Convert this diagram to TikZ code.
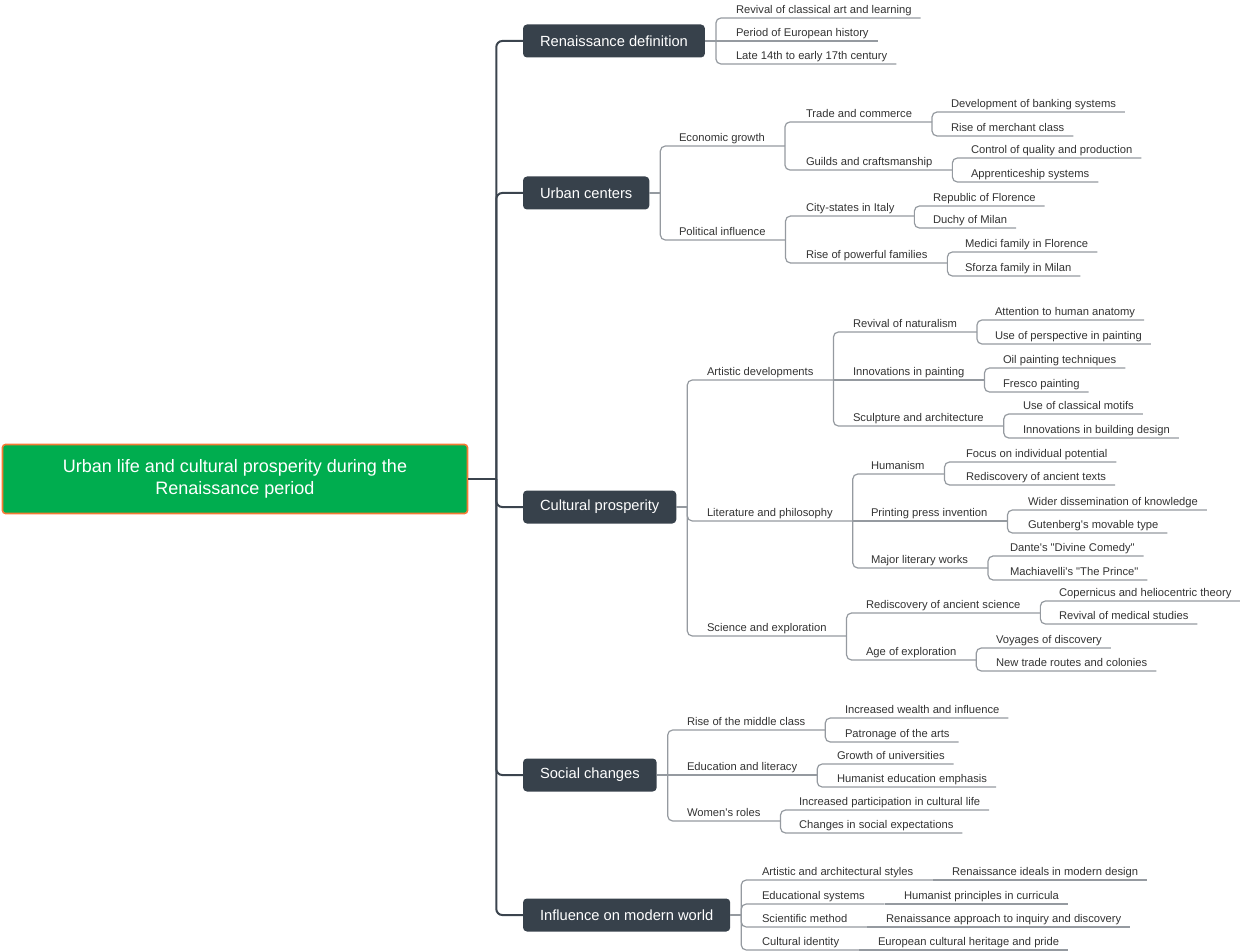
\documentclass[tikz,border=0pt]{standalone}
\usepackage{fontspec}
\newfontfamily\mapfont{Liberation Sans}

\definecolor{rootgreen}{HTML}{00AD4F}
\definecolor{rootedge}{HTML}{F47A35}
\definecolor{boxslate}{HTML}{37414B}
\definecolor{trunkslate}{HTML}{3B444E}
\definecolor{wiregray}{HTML}{959AA0}
\definecolor{inkgray}{HTML}{333333}

\tikzset{
  central/.style={rectangle, rounded corners=3pt, fill=rootgreen, draw=rootedge, line width=1.6pt,
    minimum width=465pt, minimum height=69pt, align=center, text=white,
    font=\mapfont\fontsize{18}{21.8}\selectfont},
  branch/.style={anchor=west, rectangle, rounded corners=4pt, fill=boxslate, text=white,
    minimum height=33pt, inner xsep=17pt, outer sep=0pt, font=\mapfont\fontsize{14.7}{17}\selectfont},
  topic/.style={anchor=south west, inner sep=0pt, outer sep=0pt, text height=8.2pt, text depth=4.3pt,
    text=inkgray, font=\mapfont\fontsize{11.2}{13}\selectfont},
  wire/.style={draw=wiregray, line width=1.2pt, rounded corners=5pt},
  spine/.style={draw=trunkslate, line width=2pt, rounded corners=6pt}
}

\begin{document}
\begin{tikzpicture}[x=1pt,y=-1pt]
\useasboundingbox (0,0) rectangle (1240,952);

\node[central] (root) at (235,479) {\raisebox{-2pt}{Urban life and cultural prosperity during the}\\\raisebox{-2pt}{Renaissance period}};

\node[branch] (def) at (523,41) {Renaissance definition};
\node[branch] (urb) at (523,193) {Urban centers};
\node[branch] (cul) at (523,507) {Cultural prosperity};
\node[branch] (soc) at (523,775) {Social changes};
\node[branch] (inf) at (523,915) {Influence on modern world};

% definition
\node[topic] (rev) at (736,18) {Revival of classical art and learning};
\node[topic] (per) at (736,41) {Period of European history};
\node[topic] (late) at (736,64) {Late 14th to early 17th century};

% urban centers
\node[topic] (eco) at (679,146) {Economic growth};
\node[topic] (trade) at (806,122) {Trade and commerce};
\node[topic] (bank) at (951,112) {Development of banking systems};
\node[topic] (merch) at (951,136) {Rise of merchant class};
\node[topic] (guild) at (806,170) {Guilds and craftsmanship};
\node[topic] (qual) at (971,158) {Control of quality and production};
\node[topic] (appr) at (971,182) {Apprenticeship systems};
\node[topic] (pol) at (679,240) {Political influence};
\node[topic] (city) at (806,216) {City-states in Italy};
\node[topic] (flor) at (933,206) {Republic of Florence};
\node[topic] (milan) at (933,228) {Duchy of Milan};
\node[topic] (fam) at (806,263) {Rise of powerful families};
\node[topic] (medici) at (965,252) {Medici family in Florence};
\node[topic] (sforza) at (965,276) {Sforza family in Milan};

% cultural prosperity
\node[topic] (art) at (707,380) {Artistic developments};
\node[topic] (nat) at (853,332) {Revival of naturalism};
\node[topic] (anat) at (995,320) {Attention to human anatomy};
\node[topic] (persp) at (995,344) {Use of perspective in painting};
\node[topic] (paint) at (853,380) {Innovations in painting};
\node[topic] (oil) at (1003,368) {Oil painting techniques};
\node[topic] (fresco) at (1003,392) {Fresco painting};
\node[topic] (sculpt) at (853,426) {Sculpture and architecture};
\node[topic] (motif) at (1023,414) {Use of classical motifs};
\node[topic] (build) at (1023,438) {Innovations in building design};
\node[topic] (lit) at (707,521) {Literature and philosophy};
\node[topic] (hum) at (871,474) {Humanism};
\node[topic] (focus) at (966,462) {Focus on individual potential};
\node[topic] (texts) at (966,485) {Rediscovery of ancient texts};
\node[topic] (press) at (871,521) {Printing press invention};
\node[topic] (wider) at (1028,510) {Wider dissemination of knowledge};
\node[topic] (guten) at (1028,533) {Gutenberg's movable type};
\node[topic] (works) at (871,568) {Major literary works};
\node[topic] (dante) at (1010,556) {Dante's "Divine Comedy"};
\node[topic] (mach) at (1010,580) {Machiavelli's "The Prince"};
\node[topic] (sci) at (707,636) {Science and exploration};
\node[topic] (anc) at (866,613) {Rediscovery of ancient science};
\node[topic] (coper) at (1059,601) {Copernicus and heliocentric theory};
\node[topic] (medic) at (1059,624) {Revival of medical studies};
\node[topic] (age) at (866,660) {Age of exploration};
\node[topic] (voy) at (996,648) {Voyages of discovery};
\node[topic] (routes) at (996,671) {New trade routes and colonies};

% social changes
\node[topic] (mid) at (687,730) {Rise of the middle class};
\node[topic] (wealth) at (845,718) {Increased wealth and influence};
\node[topic] (patr) at (845,742) {Patronage of the arts};
\node[topic] (edu) at (687,775) {Education and literacy};
\node[topic] (univ) at (837,764) {Growth of universities};
\node[topic] (hedu) at (837,787) {Humanist education emphasis};
\node[topic] (wom) at (687,821) {Women's roles};
\node[topic] (part) at (799,810) {Increased participation in cultural life};
\node[topic] (expect) at (799,833) {Changes in social expectations};

% modern world
\node[topic] (sty) at (762,880) {Artistic and architectural styles};
\node[topic] (ideal) at (952,880) {Renaissance ideals in modern design};
\node[topic] (esys) at (762,904) {Educational systems};
\node[topic] (hprin) at (904,904) {Humanist principles in curricula};
\node[topic] (smeth) at (762,927) {Scientific method};
\node[topic] (inq) at (886,927) {Renaissance approach to inquiry and discovery};
\node[topic] (cid) at (762,950) {Cultural identity};
\node[topic] (herit) at (878,950) {European cultural heritage and pride};

% spine
\draw[spine] (root.east) -- ++(28,0);
\draw[spine] ([xshift=28pt]root.east) |- (def.west);
\draw[spine] ([xshift=28pt]root.east) |- (urb.west);
\draw[spine] ([xshift=28pt]root.east) |- (cul.west);
\draw[spine] ([xshift=28pt]root.east) |- (soc.west);
\draw[spine] ([xshift=28pt]root.east) |- (inf.west);

% definition wires
\draw[wire] (def.east) -- ++(11,0);
\draw[wire] ([xshift=11pt]def.east) |- (rev.south west) -- ([xshift=9pt]rev.south east);
\draw[wire] ([xshift=11pt]def.east) -- (per.south west) -- ([xshift=9pt]per.south east);
\draw[wire] ([xshift=11pt]def.east) |- (late.south west) -- ([xshift=9pt]late.south east);

% urban wires
\draw[wire] (urb.east) -- ++(11,0);
\draw[wire] ([xshift=11pt]urb.east) |- (eco.south west) -- ([xshift=20pt]eco.south east);
\draw[wire] ([xshift=11pt]urb.east) |- (pol.south west) -- ([xshift=20pt]pol.south east);
\draw[wire] ([xshift=20pt]eco.south east) |- (trade.south west) -- ([xshift=20pt]trade.south east);
\draw[wire] ([xshift=20pt]eco.south east) |- (guild.south west) -- ([xshift=20pt]guild.south east);
\draw[wire] ([xshift=20pt]trade.south east) |- (bank.south west) -- ([xshift=9pt]bank.south east);
\draw[wire] ([xshift=20pt]trade.south east) |- (merch.south west) -- ([xshift=9pt]merch.south east);
\draw[wire] ([xshift=20pt]guild.south east) |- (qual.south west) -- ([xshift=9pt]qual.south east);
\draw[wire] ([xshift=20pt]guild.south east) |- (appr.south west) -- ([xshift=9pt]appr.south east);
\draw[wire] ([xshift=20pt]pol.south east) |- (city.south west) -- ([xshift=20pt]city.south east);
\draw[wire] ([xshift=20pt]pol.south east) |- (fam.south west) -- ([xshift=20pt]fam.south east);
\draw[wire] ([xshift=20pt]city.south east) |- (flor.south west) -- ([xshift=9pt]flor.south east);
\draw[wire] ([xshift=20pt]city.south east) |- (milan.south west) -- ([xshift=9pt]milan.south east);
\draw[wire] ([xshift=20pt]fam.south east) |- (medici.south west) -- ([xshift=9pt]medici.south east);
\draw[wire] ([xshift=20pt]fam.south east) |- (sforza.south west) -- ([xshift=9pt]sforza.south east);

% cultural wires
\draw[wire] (cul.east) -- ++(11,0);
\draw[wire] ([xshift=11pt]cul.east) |- (art.south west) -- ([xshift=20pt]art.south east);
\draw[wire] ([xshift=11pt]cul.east) |- (lit.south west) -- ([xshift=20pt]lit.south east);
\draw[wire] ([xshift=11pt]cul.east) |- (sci.south west) -- ([xshift=20pt]sci.south east);
\draw[wire] ([xshift=20pt]art.south east) |- (nat.south west) -- ([xshift=20pt]nat.south east);
\draw[wire] ([xshift=20pt]art.south east) -- (paint.south west) -- ([xshift=20pt]paint.south east);
\draw[wire] ([xshift=20pt]art.south east) |- (sculpt.south west) -- ([xshift=20pt]sculpt.south east);
\draw[wire] ([xshift=20pt]nat.south east) |- (anat.south west) -- ([xshift=9pt]anat.south east);
\draw[wire] ([xshift=20pt]nat.south east) |- (persp.south west) -- ([xshift=9pt]persp.south east);
\draw[wire] ([xshift=20pt]paint.south east) |- (oil.south west) -- ([xshift=9pt]oil.south east);
\draw[wire] ([xshift=20pt]paint.south east) |- (fresco.south west) -- ([xshift=9pt]fresco.south east);
\draw[wire] ([xshift=20pt]sculpt.south east) |- (motif.south west) -- ([xshift=9pt]motif.south east);
\draw[wire] ([xshift=20pt]sculpt.south east) |- (build.south west) -- ([xshift=9pt]build.south east);
\draw[wire] ([xshift=20pt]lit.south east) |- (hum.south west) -- ([xshift=20pt]hum.south east);
\draw[wire] ([xshift=20pt]lit.south east) -- (press.south west) -- ([xshift=20pt]press.south east);
\draw[wire] ([xshift=20pt]lit.south east) |- (works.south west) -- ([xshift=20pt]works.south east);
\draw[wire] ([xshift=20pt]hum.south east) |- (focus.south west) -- ([xshift=9pt]focus.south east);
\draw[wire] ([xshift=20pt]hum.south east) |- (texts.south west) -- ([xshift=9pt]texts.south east);
\draw[wire] ([xshift=20pt]press.south east) |- (wider.south west) -- ([xshift=9pt]wider.south east);
\draw[wire] ([xshift=20pt]press.south east) |- (guten.south west) -- ([xshift=9pt]guten.south east);
\draw[wire] ([xshift=20pt]works.south east) |- (dante.south west) -- ([xshift=9pt]dante.south east);
\draw[wire] ([xshift=20pt]works.south east) |- (mach.south west) -- ([xshift=9pt]mach.south east);
\draw[wire] ([xshift=20pt]sci.south east) |- (anc.south west) -- ([xshift=20pt]anc.south east);
\draw[wire] ([xshift=20pt]sci.south east) |- (age.south west) -- ([xshift=20pt]age.south east);
\draw[wire] ([xshift=20pt]anc.south east) |- (coper.south west) -- ([xshift=9pt]coper.south east);
\draw[wire] ([xshift=20pt]anc.south east) |- (medic.south west) -- ([xshift=9pt]medic.south east);
\draw[wire] ([xshift=20pt]age.south east) |- (voy.south west) -- ([xshift=9pt]voy.south east);
\draw[wire] ([xshift=20pt]age.south east) |- (routes.south west) -- ([xshift=9pt]routes.south east);

% social wires
\draw[wire] (soc.east) -- ++(11,0);
\draw[wire] ([xshift=11pt]soc.east) |- (mid.south west) -- ([xshift=20pt]mid.south east);
\draw[wire] ([xshift=11pt]soc.east) -- (edu.south west) -- ([xshift=20pt]edu.south east);
\draw[wire] ([xshift=11pt]soc.east) |- (wom.south west) -- ([xshift=20pt]wom.south east);
\draw[wire] ([xshift=20pt]mid.south east) |- (wealth.south west) -- ([xshift=9pt]wealth.south east);
\draw[wire] ([xshift=20pt]mid.south east) |- (patr.south west) -- ([xshift=9pt]patr.south east);
\draw[wire] ([xshift=20pt]edu.south east) |- (univ.south west) -- ([xshift=9pt]univ.south east);
\draw[wire] ([xshift=20pt]edu.south east) |- (hedu.south west) -- ([xshift=9pt]hedu.south east);
\draw[wire] ([xshift=20pt]wom.south east) |- (part.south west) -- ([xshift=9pt]part.south east);
\draw[wire] ([xshift=20pt]wom.south east) |- (expect.south west) -- ([xshift=9pt]expect.south east);

% modern world wires
\draw[wire] (inf.east) -- ++(11,0);
\draw[wire] ([xshift=11pt]inf.east) |- (sty.south west) -- ([xshift=20pt]sty.south east);
\draw[wire] ([xshift=11pt]inf.east) |- (esys.south west) -- ([xshift=20pt]esys.south east);
\draw[wire] ([xshift=11pt]inf.east) |- (smeth.south west) -- ([xshift=20pt]smeth.south east);
\draw[wire] ([xshift=11pt]inf.east) |- (cid.south west) -- ([xshift=20pt]cid.south east);
\draw[wire] ([xshift=20pt]sty.south east) -- (ideal.south west) -- ([xshift=9pt]ideal.south east);
\draw[wire] ([xshift=20pt]esys.south east) -- (hprin.south west) -- ([xshift=9pt]hprin.south east);
\draw[wire] ([xshift=20pt]smeth.south east) -- (inq.south west) -- ([xshift=9pt]inq.south east);
\draw[wire] ([xshift=20pt]cid.south east) -- (herit.south west) -- ([xshift=9pt]herit.south east);
\end{tikzpicture}
\end{document}
